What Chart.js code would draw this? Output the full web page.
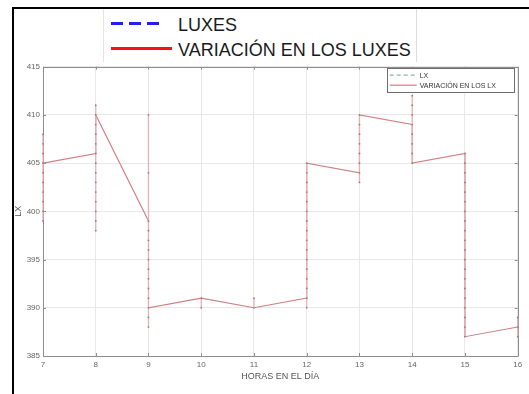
<!DOCTYPE html>
<html lang="es">
<head>
<meta charset="utf-8">
<title>Luxes por hora</title>
<script src="https://cdn.jsdelivr.net/npm/chart.js@4.4.1/dist/chart.umd.min.js"></script>
<style>
  html, body { margin: 0; padding: 0; background: #fff; }
  #lienzo { position: relative; width: 529px; height: 394px; overflow: hidden; font-family: "Liberation Sans", Arial, sans-serif; }
  #grafica { position: absolute; left: 0; top: 0; }
  .marco-sup { position: absolute; left: 12px; top: 7px; width: 517px; height: 2px; background: #000; }
  .marco-izq { position: absolute; left: 12px; top: 7px; width: 2px; height: 387px; background: #000; }
  .leyenda { position: absolute; left: 103px; top: 9px; width: 312px; height: 53px; border-left: 1px solid #e4e4e4; border-right: 1px solid #dcdcdc; background: #fff; }
  .muestra { position: absolute; height: 3px; }
  .muestra.luxes { left: 111px; top: 22px; width: 52px; background: repeating-linear-gradient(90deg, #1e1eff 0 12px, transparent 12px 18px); }
  .muestra.variacion { left: 111px; top: 47px; width: 61px; background: #ff1010; }
  .etiqueta { position: absolute; left: 178px; font-size: 18px; line-height: 18px; color: #1a1a1a; white-space: nowrap; }
</style>
</head>
<body>
<div id="lienzo">
  <canvas id="grafica" width="529" height="394"></canvas>
  <div class="marco-sup"></div>
  <div class="marco-izq"></div>
  <div class="leyenda"></div>
  <div class="muestra luxes"></div>
  <div class="etiqueta" style="top:16px">LUXES</div>
  <div class="muestra variacion"></div>
  <div class="etiqueta" style="top:41px">VARIACIÓN EN LOS LUXES</div>
</div>
<script>
// Horas de medición
const horas = [7, 8, 9, 10, 11, 12, 13, 14, 15, 16];

// Lecturas de luxes registradas en cada hora
const lecturas = [
  [408, 407, 406, 405, 404, 403, 402, 401, 400, 399],
  [411, 410, 409, 408, 407, 406, 405, 404, 403, 402, 401, 400, 399, 398],
  [410, 404, 399, 398, 397, 396, 395, 394, 393, 392, 391, 390, 389, 388],
  [391, 390],
  [391, 390],
  [405, 404, 403, 402, 401, 400, 399, 398, 397, 396, 395, 394, 393, 392, 391, 390],
  [410, 409, 408, 407, 406, 405, 404, 403],
  [412, 411, 410, 409, 408, 407, 406, 405],
  [406, 405, 404, 403, 402, 401, 400, 399, 398, 397, 396, 395, 394, 393, 392, 391, 390, 389, 388, 387],
  [389, 388, 387]
];

// Recorrido de la variación: valor de llegada y de salida en cada hora
const variacionHoras = [7, 8, 8, 9, 9, 10, 11, 12, 12, 13, 13, 14, 14, 15, 15, 16];
const variacionLux   = [405, 406, 410, 399, 390, 391, 390, 391, 405, 404, 410, 409, 405, 406, 387, 388];

// Marcas de los ejes
const ticksX = [7, 8, 9, 10, 11, 12, 13, 14, 15, 16];
const ticksY = [385, 390, 395, 400, 405, 410, 415];

// Cada hora se dibuja como un tramo vertical independiente (y: null corta la línea)
const puntosLX = [];
horas.forEach((h, i) => {
  lecturas[i].forEach(v => puntosLX.push({ x: h, y: v }));
  puntosLX.push({ x: h, y: null });
});
const puntosVariacion = variacionHoras.map((h, i) => ({ x: h, y: variacionLux[i] }));

const COLOR_EJE = '#8e8e8e';
const COLOR_TEXTO = '#666';

// Caja de ejes con marcas interiores en los cuatro lados
const marcoEjes = {
  id: 'marcoEjes',
  beforeDatasetsDraw(chart) {
    const { ctx, chartArea: a, scales: { x, y } } = chart;
    ctx.save();
    ctx.strokeStyle = COLOR_EJE;
    ctx.lineWidth = 1;
    ctx.beginPath();
    ctx.rect(Math.round(a.left) + 0.5, Math.round(a.top) + 0.5, Math.round(a.right - a.left), Math.round(a.bottom - a.top));
    ticksX.forEach(v => {
      const px = Math.round(x.getPixelForValue(v)) + 0.5;
      ctx.moveTo(px, a.bottom); ctx.lineTo(px, a.bottom - 3);
      ctx.moveTo(px, a.top); ctx.lineTo(px, a.top + 3);
    });
    ticksY.forEach(v => {
      const py = Math.round(y.getPixelForValue(v)) + 0.5;
      ctx.moveTo(a.left, py); ctx.lineTo(a.left + 3, py);
      ctx.moveTo(a.right, py); ctx.lineTo(a.right - 3, py);
    });
    ctx.stroke();
    ctx.restore();
  }
};

// Leyenda interior en la esquina superior derecha
const estilosLeyenda = [
  { color: '#86b4b8', dash: [4, 3] },
  { color: '#cf7f85', dash: [] }
];
const leyendaInterior = {
  id: 'leyendaInterior',
  afterDraw(chart) {
    const { ctx, chartArea: a } = chart;
    const w = 126.5, h = 24;
    const x0 = a.right - 4.5 - w, y0 = a.top + 1.5;
    ctx.save();
    ctx.fillStyle = '#fff';
    ctx.fillRect(x0, y0, w, h);
    ctx.strokeStyle = '#6e6e6e';
    ctx.lineWidth = 1;
    ctx.strokeRect(Math.round(x0) + 0.5, Math.round(y0) + 0.5, Math.round(w), Math.round(h));
    ctx.font = '7px "Liberation Sans", Arial, sans-serif';
    ctx.textBaseline = 'middle';
    chart.data.datasets.forEach((ds, i) => {
      const yy = y0 + 7 + i * 10;
      ctx.strokeStyle = estilosLeyenda[i].color;
      ctx.setLineDash(estilosLeyenda[i].dash);
      ctx.lineWidth = 1.2;
      ctx.beginPath();
      ctx.moveTo(x0 + 3, yy); ctx.lineTo(x0 + 30, yy);
      ctx.stroke();
      ctx.setLineDash([]);
      ctx.fillStyle = '#333';
      ctx.fillText(ds.label, x0 + 33, yy + 0.5);
    });
    ctx.restore();
  }
};

new Chart(document.getElementById('grafica'), {
  type: 'line',
  data: {
    datasets: [
      {
        label: 'LX',
        data: puntosLX,
        borderColor: '#eab0b8',
        borderWidth: 1.3,
        pointRadius: 0.9,
        pointBorderWidth: 0,
        pointBackgroundColor: '#9c7c81',
        spanGaps: false,
        clip: 4,
        tension: 0
      },
      {
        label: 'VARIACIÓN EN LOS LX',
        data: puntosVariacion,
        borderColor: '#cf7f85',
        borderWidth: 1.1,
        pointRadius: 0,
        clip: 4,
        tension: 0
      }
    ]
  },
  options: {
    responsive: false,
    animation: false,
    layout: { padding: { left: 13, top: 66.7, right: 11.3, bottom: 0 } },
    scales: {
      x: {
        type: 'linear',
        min: 7,
        max: 16,
        afterBuildTicks(s) { s.ticks = ticksX.map(v => ({ value: v })); },
        afterFit(s) { s.height = 38; },
        ticks: { color: COLOR_TEXTO, padding: 4, font: { family: '"Liberation Sans", Arial, sans-serif', size: 8 } },
        grid: { color: '#e8e8e8', drawTicks: false },
        border: { display: false },
        title: {
          display: true,
          text: 'HORAS EN EL DÍA',
          color: '#555',
          font: { family: '"Liberation Sans", Arial, sans-serif', size: 9 },
          padding: { top: 0, bottom: 12 }
        }
      },
      y: {
        type: 'linear',
        min: 385,
        max: 415,
        afterBuildTicks(s) { s.ticks = ticksY.map(v => ({ value: v })); },
        afterFit(s) { s.width = 30; },
        ticks: { color: COLOR_TEXTO, padding: 3, font: { family: '"Liberation Sans", Arial, sans-serif', size: 8 } },
        grid: { color: '#e8e8e8', drawTicks: false },
        border: { display: false },
        title: {
          display: true,
          text: 'LX',
          color: '#555',
          font: { family: '"Liberation Sans", Arial, sans-serif', size: 9 },
          padding: { top: 0, bottom: 0 }
        }
      }
    },
    plugins: {
      legend: { display: false },
      tooltip: { enabled: false }
    }
  },
  plugins: [marcoEjes, leyendaInterior]
});
</script>
</body>
</html>
